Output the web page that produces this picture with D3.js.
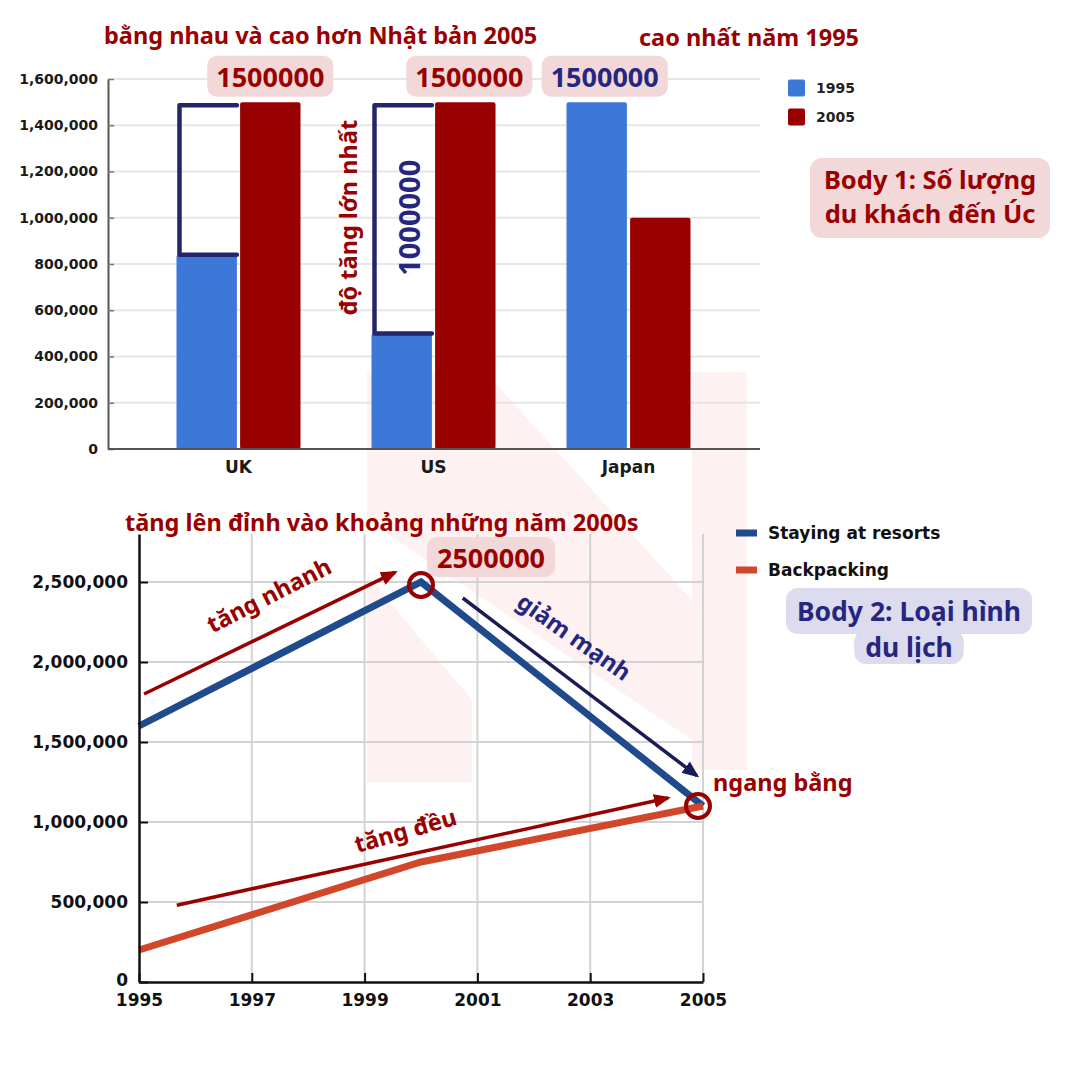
<!DOCTYPE html>
<html>
<head>
<meta charset="utf-8">
<script src="https://cdn.jsdelivr.net/npm/d3@7"></script>
<style>
  html, body { margin: 0; padding: 0; background: #fff; }
  svg { display: block; }
</style>
</head>
<body>
<svg id="chart" width="1080" height="1080"></svg>
<script>
// Body 1: visitors to Australia
const countries = ['UK', 'US', 'Japan'];
const barYears = ['1995', '2005'];
const visitors1995 = [840000, 500000, 1500000];
const visitors2005 = [1500000, 1500000, 1000000];
const barTicks = [0, 200000, 400000, 600000, 800000, 1000000, 1200000, 1400000, 1600000];

// Body 2: type of holiday
const lineYears = [1995, 2000, 2005];
const resorts = [1600000, 2500000, 1100000];
const backpacking = [200000, 750000, 1100000];
const lineXTicks = [1995, 1997, 1999, 2001, 2003, 2005];
const lineYTicks = [0, 500000, 1000000, 1500000, 2000000, 2500000];
const seriesNames = ['Staying at resorts', 'Backpacking'];

// colours / fonts
const blue95 = '#3c78d8', red05 = '#990000';
const resortBlue = '#1f4a8c', backOrange = '#d2462a';
const darkRed = '#990000', navy = '#262680', arrowNavy = '#1a1a55';
const pinkBox = '#f2d8d8', lavBox = '#dcdcee';
const tickFont = '"DejaVu Sans", Verdana, sans-serif';
const noteFont = '"Noto Sans", "Open Sans", sans-serif';
const noteSize = 23.5;

const svg = d3.select('#chart');
const fmt = d3.format(',');

// arrow heads
const defs = svg.append('defs');
[['head-red', darkRed], ['head-navy', arrowNavy]].forEach(([id, col]) => {
  defs.append('marker')
    .attr('id', id)
    .attr('markerUnits', 'userSpaceOnUse')
    .attr('markerWidth', 18).attr('markerHeight', 16)
    .attr('refX', 14).attr('refY', 8)
    .attr('orient', 'auto')
    .append('path')
    .attr('d', 'M0,1 L17,8 L0,15 Z')
    .attr('fill', col);
});

// faint pink background shape
const deco = svg.append('g').attr('fill', '#fdf1f2');
[
  [[367, 575], [472, 700], [472, 782], [367, 782]],
  [[692, 372], [747, 372], [747, 770], [692, 770]],
  [[367, 372], [485, 372], [692, 600], [692, 740], [367, 520]]
].forEach(pts => deco.append('polygon').attr('points', pts.join(' ')));

// helper: text on a rounded box
function labelBox(g, txt, cx, cy, o) {
  const t = g.append('text')
    .attr('x', cx).attr('y', cy)
    .attr('text-anchor', 'middle')
    .attr('dominant-baseline', 'central')
    .attr('font-family', noteFont)
    .attr('font-weight', 700)
    .attr('font-size', o.size)
    .attr('fill', o.color)
    .text(txt);
  const w = t.node().getComputedTextLength() + o.padX * 2;
  g.insert('rect', () => t.node())
    .attr('x', cx - w / 2).attr('y', cy - o.h / 2)
    .attr('width', w).attr('height', o.h)
    .attr('rx', o.rx || 10)
    .attr('fill', o.fill);
  return t;
}

function note(g, txt, x, y, o) {
  return g.append('text')
    .attr('x', x).attr('y', y)
    .attr('text-anchor', o.anchor || 'start')
    .attr('dominant-baseline', 'central')
    .attr('font-family', noteFont)
    .attr('font-weight', 700)
    .attr('font-size', o.size || noteSize)
    .attr('fill', o.color || darkRed)
    .attr('transform', o.rotate ? `rotate(${o.rotate},${x},${y})` : null)
    .text(txt);
}

// ================= bar chart =================
const barG = svg.append('g');

const yBar = d3.scaleLinear().domain([0, 1600000]).range([449, 79]);
const x0 = d3.scaleBand().domain(countries).range([141, 726])
  .paddingInner(0.364).paddingOuter(0.182);
const x1 = d3.scaleBand().domain(barYears).range([0, x0.bandwidth()]).paddingInner(0.05);

// grid
barG.append('g').selectAll('line')
  .data(barTicks.slice(1))
  .join('line')
  .attr('x1', 108).attr('x2', 760)
  .attr('y1', d => yBar(d)).attr('y2', d => yBar(d))
  .attr('stroke', '#e6e6e6').attr('stroke-width', 2);

const barRows = countries.flatMap((c, i) => [
  { c, year: '1995', v: visitors1995[i] },
  { c, year: '2005', v: visitors2005[i] }
]);

barG.append('g').selectAll('rect')
  .data(barRows)
  .join('rect')
  .attr('x', d => x0(d.c) + x1(d.year))
  .attr('y', d => yBar(d.v))
  .attr('width', x1.bandwidth())
  .attr('height', d => yBar(0) - yBar(d.v))
  .attr('rx', 2)
  .attr('fill', d => d.year === '1995' ? blue95 : red05);

// axes
const yAxisBar = barG.append('g')
  .attr('transform', 'translate(108,0)')
  .call(d3.axisLeft(yBar).tickValues(barTicks).tickFormat(fmt)
    .tickSize(-6).tickSizeOuter(0).tickPadding(10));
yAxisBar.select('.domain').attr('stroke', '#555').attr('stroke-width', 2);
yAxisBar.selectAll('.tick line').attr('stroke', '#777').attr('stroke-width', 1.5);
yAxisBar.selectAll('.tick text')
  .attr('font-family', tickFont).attr('font-weight', 'bold')
  .attr('font-size', 14).attr('fill', '#1a1a1a');

barG.append('line')
  .attr('x1', 108).attr('x2', 760)
  .attr('y1', yBar(0)).attr('y2', yBar(0))
  .attr('stroke', '#555').attr('stroke-width', 2);

const xAxisBar = barG.append('g')
  .attr('transform', `translate(0,${yBar(0)})`)
  .call(d3.axisBottom(x0).tickSize(0).tickPadding(12));
xAxisBar.select('.domain').remove();
xAxisBar.selectAll('.tick text')
  .attr('font-family', tickFont).attr('font-weight', 'bold')
  .attr('font-size', 17).attr('fill', '#1a1a1a');

// increase brackets (UK, US)
['UK', 'US'].forEach(c => {
  const i = countries.indexOf(c);
  const xs = x0(c) + x1('1995') + 3;
  const xe = x0(c) + x1('1995') + x1.bandwidth();
  const yt = yBar(visitors2005[i]) + 3;
  const yb = yBar(visitors1995[i]);
  barG.append('path')
    .attr('d', `M${xe},${yt} H${xs} V${yb} H${xe}`)
    .attr('fill', 'none')
    .attr('stroke', '#25256b').attr('stroke-width', 4.5)
    .attr('stroke-linecap', 'round').attr('stroke-linejoin', 'round');
});

// value boxes above bars
[
  { c: 'UK', year: '2005', v: visitors2005[0], color: darkRed, dx: 0 },
  { c: 'US', year: '2005', v: visitors2005[1], color: darkRed, dx: 4 },
  { c: 'Japan', year: '1995', v: visitors1995[2], color: navy, dx: 8 }
].forEach(d => {
  const cx = x0(d.c) + x1(d.year) + x1.bandwidth() / 2 + d.dx;
  labelBox(barG, String(d.v), cx, yBar(d.v) - 26,
    { size: 27, color: d.color, fill: pinkBox, padX: 9, h: 41, rx: 10 });
});

// rotated notes around US bracket
const usBracketX = x0('US') + x1('1995') + 3;
const usMid = (yBar(visitors2005[1]) + yBar(visitors1995[1])) / 2;
note(barG, 'độ tăng lớn nhất', usBracketX - 26, usMid, { anchor: 'middle', rotate: -90 });
note(barG, String(visitors2005[1] - visitors1995[1]), usBracketX + 34, usMid,
  { anchor: 'middle', rotate: -90, size: 29, color: navy });

note(barG, 'bằng nhau và cao hơn Nhật bản 2005', 104, 35, {});
note(barG, 'cao nhất năm 1995', 749, 37, { anchor: 'middle' });

// legend
barYears.forEach((yr, i) => {
  const ly = 88 + i * 29;
  barG.append('rect')
    .attr('x', 788).attr('y', ly - 8.5)
    .attr('width', 17).attr('height', 17).attr('rx', 2)
    .attr('fill', i === 0 ? blue95 : red05);
  barG.append('text')
    .attr('x', 816).attr('y', ly)
    .attr('dominant-baseline', 'central')
    .attr('font-family', tickFont).attr('font-weight', 'bold')
    .attr('font-size', 14).attr('fill', '#222')
    .text(yr);
});

// Body 1 heading box (one text, two lines)
barG.append('rect')
  .attr('x', 810).attr('y', 158).attr('width', 240).attr('height', 80)
  .attr('rx', 12).attr('fill', pinkBox);
barG.append('text')
  .attr('text-anchor', 'middle')
  .attr('font-family', noteFont).attr('font-weight', 700)
  .attr('font-size', 25.5).attr('fill', darkRed)
  .selectAll('tspan')
  .data(['Body 1: Số lượng', 'du khách đến Úc'])
  .join('tspan')
  .attr('x', 930)
  .attr('y', (d, i) => 189 + i * 34)
  .text(d => d);

// ================= line chart =================
const lineG = svg.append('g');

const xLine = d3.scaleLinear().domain([1995, 2005]).range([139, 703]);
const yLine = d3.scaleLinear().domain([0, 2800000]).range([982, 534]);

lineG.append('g').selectAll('line')
  .data(lineYTicks.slice(1))
  .join('line')
  .attr('x1', xLine(1995)).attr('x2', xLine(2005))
  .attr('y1', d => yLine(d)).attr('y2', d => yLine(d))
  .attr('stroke', '#d3d3d3').attr('stroke-width', 2);
lineG.append('g').selectAll('line')
  .data(lineXTicks.slice(1))
  .join('line')
  .attr('x1', d => xLine(d)).attr('x2', d => xLine(d))
  .attr('y1', yLine(0)).attr('y2', yLine(2800000))
  .attr('stroke', '#d3d3d3').attr('stroke-width', 2);

const line = d3.line()
  .x(d => xLine(d.year))
  .y(d => yLine(d.v));

const series = [
  { name: seriesNames[0], color: resortBlue, values: lineYears.map((y, i) => ({ year: y, v: resorts[i] })) },
  { name: seriesNames[1], color: backOrange, values: lineYears.map((y, i) => ({ year: y, v: backpacking[i] })) }
];

lineG.append('g').selectAll('path')
  .data(series)
  .join('path')
  .attr('d', d => line(d.values))
  .attr('fill', 'none')
  .attr('stroke', d => d.color)
  .attr('stroke-width', 7)
  .attr('stroke-linejoin', 'miter');

const yAxisLine = lineG.append('g')
  .attr('transform', `translate(${xLine(1995)},0)`)
  .call(d3.axisLeft(yLine).tickValues(lineYTicks).tickFormat(fmt)
    .tickSize(-9).tickSizeOuter(0).tickPadding(11));
const xAxisLine = lineG.append('g')
  .attr('transform', `translate(0,${yLine(0)})`)
  .call(d3.axisBottom(xLine).tickValues(lineXTicks).tickFormat(d3.format('d'))
    .tickSize(-9).tickSizeOuter(0).tickPadding(12));
[yAxisLine, xAxisLine].forEach(a => {
  a.select('.domain').attr('stroke', '#111').attr('stroke-width', 2.5);
  a.selectAll('.tick line').attr('stroke', '#111').attr('stroke-width', 2);
  a.selectAll('.tick text')
    .attr('font-family', tickFont).attr('font-weight', 'bold')
    .attr('font-size', 17).attr('fill', '#111');
});
// lift the zero label a touch so it clears the 1995 label
yAxisLine.selectAll('.tick').filter(d => d === 0).select('text').attr('dy', '0.2em');

// legend
series.forEach((s, i) => {
  const ly = 533 + i * 37;
  lineG.append('rect')
    .attr('x', 736).attr('y', ly - 3.5)
    .attr('width', 21).attr('height', 7)
    .attr('fill', s.color);
  lineG.append('text')
    .attr('x', 768).attr('y', ly)
    .attr('dominant-baseline', 'central')
    .attr('font-family', tickFont).attr('font-weight', 'bold')
    .attr('font-size', 17).attr('fill', '#111')
    .text(s.name);
});

// Body 2 heading (two stacked boxes)
[['Body 2: Loại hình', 611], ['du lịch', 647]].forEach(([s, cy], i) => {
  labelBox(lineG, s, 909, cy, { size: 26.5, color: navy, fill: lavBox, padX: 11, h: i ? 34 : 46, rx: 12 });
});

// annotations
note(lineG, 'tăng lên đỉnh vào khoảng những năm 2000s', 125, 522, {});

const peakX = xLine(2000), peakY = yLine(2500000);
labelBox(lineG, '2500000', peakX + 70, peakY - 25,
  { size: 27, color: darkRed, fill: pinkBox, padX: 10, h: 40, rx: 10 });

function arrow(from, to, col, head) {
  lineG.append('line')
    .attr('x1', xLine(from[0])).attr('y1', yLine(from[1]))
    .attr('x2', xLine(to[0])).attr('y2', yLine(to[1]))
    .attr('stroke', col).attr('stroke-width', 3.5)
    .attr('marker-end', `url(#${head})`);
}
arrow([1995.09, 1800000], [1999.54, 2560000], darkRed, 'head-red');
arrow([2000.74, 2400000], [2004.89, 1290000], arrowNavy, 'head-navy');
arrow([1995.67, 480000], [2004.38, 1150000], darkRed, 'head-red');

note(lineG, 'tăng nhanh', xLine(1997.3), yLine(2420000), { anchor: 'middle', rotate: -27 });
note(lineG, 'giảm mạnh', xLine(2002.72), yLine(2160000), { anchor: 'middle', rotate: 35, color: navy });
note(lineG, 'tăng đều', xLine(1999.72), yLine(950000), { anchor: 'middle', rotate: -16 });
note(lineG, 'ngang bằng', xLine(2005) + 10, yLine(1250000), {});

// circles at peak and meeting point
[[2000, 2500000], [2005, 1100000]].forEach(([yr, v], i) => {
  lineG.append('circle')
    .attr('cx', xLine(yr) - (i ? 5 : 0)).attr('cy', yLine(v) + (i ? 0 : 3))
    .attr('r', 12)
    .attr('fill', 'none')
    .attr('stroke', darkRed).attr('stroke-width', 4);
});
</script>
</body>
</html>
